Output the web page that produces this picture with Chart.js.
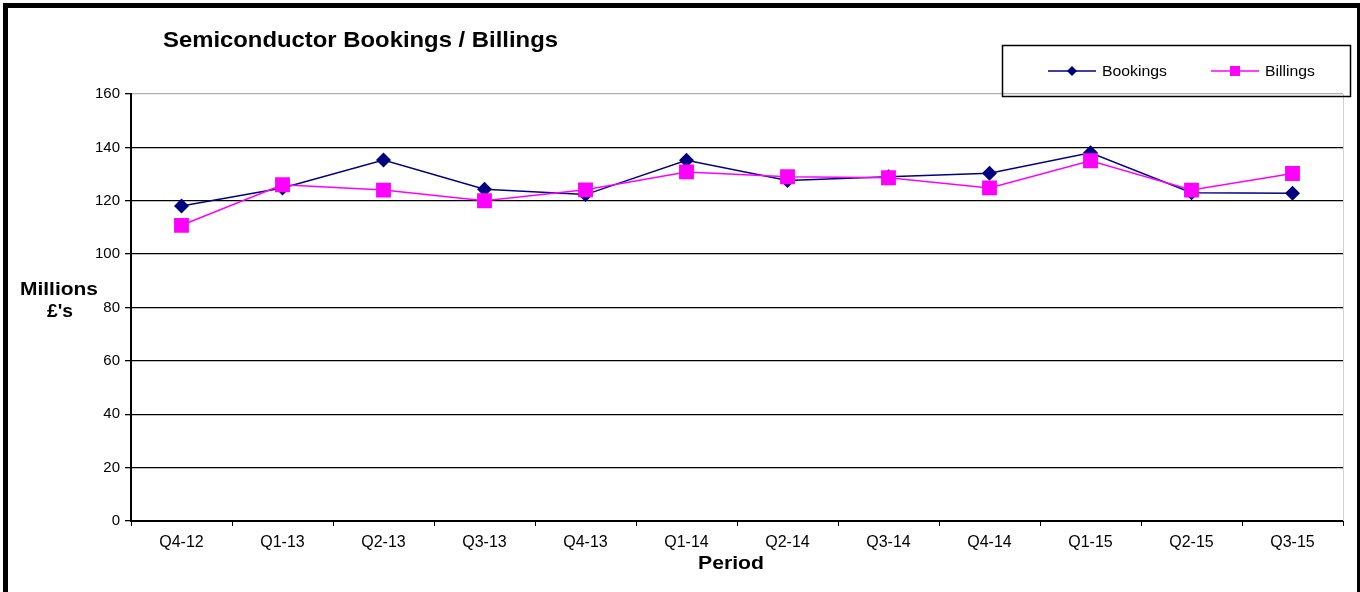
<!DOCTYPE html>
<html>
<head>
<meta charset="utf-8">
<title>Semiconductor Bookings / Billings</title>
<script src="https://cdn.jsdelivr.net/npm/chart.js@4.4.0/dist/chart.umd.min.js"></script>
<style>
    body { margin: 0; background: #fff; }
    #wrap { width: 1360px; height: 592px; position: relative; }
</style>
</head>
<body>
<div id="wrap"><canvas id="semi-chart"></canvas></div>
<script>
// Quarter labels along the x axis
const periods = ['Q4-12', 'Q1-13', 'Q2-13', 'Q3-13', 'Q4-13', 'Q1-14', 'Q2-14', 'Q3-14', 'Q4-14', 'Q1-15', 'Q2-15', 'Q3-15'];

// Values in millions of pounds
const bookings = [118, 124.8, 135.3, 124.3, 122.3, 135.2, 127.6, 129, 130.3, 138, 123, 122.8];
const billings = [110.8, 126, 124, 120, 124.1, 130.8, 129, 128.6, 124.8, 135, 124, 130.2];

const yTicks = [0, 20, 40, 60, 80, 100, 120, 140, 160];

const FONT = "'Liberation Sans', Arial, sans-serif";

// draw text stretched sideways to a given width (the original looks widened)
function wideText(ctx, text, x, y, width, align) {
    const w = ctx.measureText(text).width;
    const sx = width / w;
    ctx.save();
    ctx.textAlign = 'left';
    let left = x;
    if (align === 'center') left = x - width / 2;
    ctx.translate(left, y);
    ctx.scale(sx, 1);
    ctx.fillText(text, 0, 0);
    ctx.restore();
}

// Frame, title, axis titles and boxed legend
const decorPlugin = {
    id: 'decor',
    afterDraw(chart) {
        const ctx = chart.ctx;
        const area = chart.chartArea;
        ctx.save();

        // light grey right edge of plot area
        ctx.strokeStyle = '#d0d0d0';
        ctx.lineWidth = 1;
        ctx.beginPath();
        ctx.moveTo(area.right + 0.5, area.top);
        ctx.lineTo(area.right + 0.5, area.bottom);
        ctx.stroke();

        // outer frame
        ctx.strokeStyle = '#000';
        ctx.lineWidth = 5;
        ctx.strokeRect(5.5, 5.5, 1354, 600);

        ctx.fillStyle = '#000';
        ctx.textBaseline = 'middle';
        ctx.font = 'bold 22px ' + FONT;
        wideText(ctx, 'Semiconductor Bookings / Billings', 163, 41, 395, 'left');

        ctx.font = 'bold 18px ' + FONT;
        wideText(ctx, 'Millions', 59, 290, 78, 'center');
        wideText(ctx, "£'s", 60, 312, 26, 'center');
        wideText(ctx, 'Period', 731, 564, 66, 'center');

        // legend box
        ctx.lineWidth = 1.5;
        ctx.strokeRect(1002.5, 45.5, 348, 51);
        ctx.font = '15px ' + FONT;
        const items = [
            { x: 1048, w: 65, ds: chart.data.datasets[0] },
            { x: 1211, w: 50, ds: chart.data.datasets[1] }
        ];
        items.forEach(item => {
            const y = 71;
            ctx.strokeStyle = item.ds.borderColor;
            ctx.lineWidth = 1.5;
            ctx.beginPath();
            ctx.moveTo(item.x, y);
            ctx.lineTo(item.x + 48, y);
            ctx.stroke();
            ctx.fillStyle = item.ds.pointBackgroundColor;
            const cx = item.x + 24;
            if (item.ds.pointStyle === 'rectRot') {
                ctx.beginPath();
                ctx.moveTo(cx, y - 5);
                ctx.lineTo(cx + 5, y);
                ctx.lineTo(cx, y + 5);
                ctx.lineTo(cx - 5, y);
                ctx.closePath();
                ctx.fill();
            } else {
                ctx.fillRect(cx - 5, y - 5, 10, 10);
            }
            ctx.fillStyle = '#000';
            wideText(ctx, item.ds.label, item.x + 54, y + 1, item.w, 'left');
        });

        ctx.restore();
    }
};

document.addEventListener('DOMContentLoaded', function() {
    const ctx = document.getElementById('semi-chart').getContext('2d');

    window.semiChart = new Chart(ctx, {
        type: 'line',
        data: {
            labels: periods,
            datasets: [{
                label: 'Bookings',
                data: bookings,
                borderColor: '#000080',
                backgroundColor: '#000080',
                pointBackgroundColor: '#000080',
                pointBorderColor: '#000080',
                borderWidth: 1.5,
                pointStyle: 'rectRot',
                pointRadius: 7.5,
                pointBorderWidth: 0,
                tension: 0,
                order: 1
            }, {
                label: 'Billings',
                data: billings,
                borderColor: '#FF00FF',
                backgroundColor: '#FF00FF',
                pointBackgroundColor: '#FF00FF',
                pointBorderColor: '#FF00FF',
                borderWidth: 1.5,
                pointStyle: 'rect',
                pointRadius: 10.5,
                pointBorderWidth: 0,
                tension: 0,
                order: 0
            }]
        },
        options: {
            responsive: true,
            maintainAspectRatio: false,
            animation: false,
            layout: {
                padding: { top: 94, right: 17, bottom: 0, left: 0 }
            },
            plugins: {
                legend: { display: false },
                title: { display: false },
                tooltip: { enabled: false }
            },
            scales: {
                x: {
                    offset: true,
                    grid: {
                        offset: true,
                        drawOnChartArea: false,
                        drawTicks: true,
                        tickLength: 5,
                        color: '#000'
                    },
                    border: { color: '#000', width: 2 },
                    ticks: {
                        color: '#000',
                        font: { family: FONT, size: 16 },
                        padding: 7,
                        maxRotation: 0
                    },
                    afterFit(scale) { scale.height = 71; }
                },
                y: {
                    min: 0,
                    max: 160,
                    afterBuildTicks(scale) {
                        scale.ticks = yTicks.map(v => ({ value: v }));
                    },
                    grid: {
                        color: c => (c.tick && c.tick.value === 160) ? '#b0b0b0' : '#000',
                        lineWidth: 1.3,
                        tickColor: '#000',
                        tickLength: 6
                    },
                    border: { color: '#000', width: 2 },
                    ticks: {
                        color: '#000',
                        font: { family: FONT, size: 15 },
                        padding: 5
                    },
                    afterFit(scale) { scale.width = 131; }
                }
            }
        },
        plugins: [decorPlugin]
    });
});
</script>
</body>
</html>
